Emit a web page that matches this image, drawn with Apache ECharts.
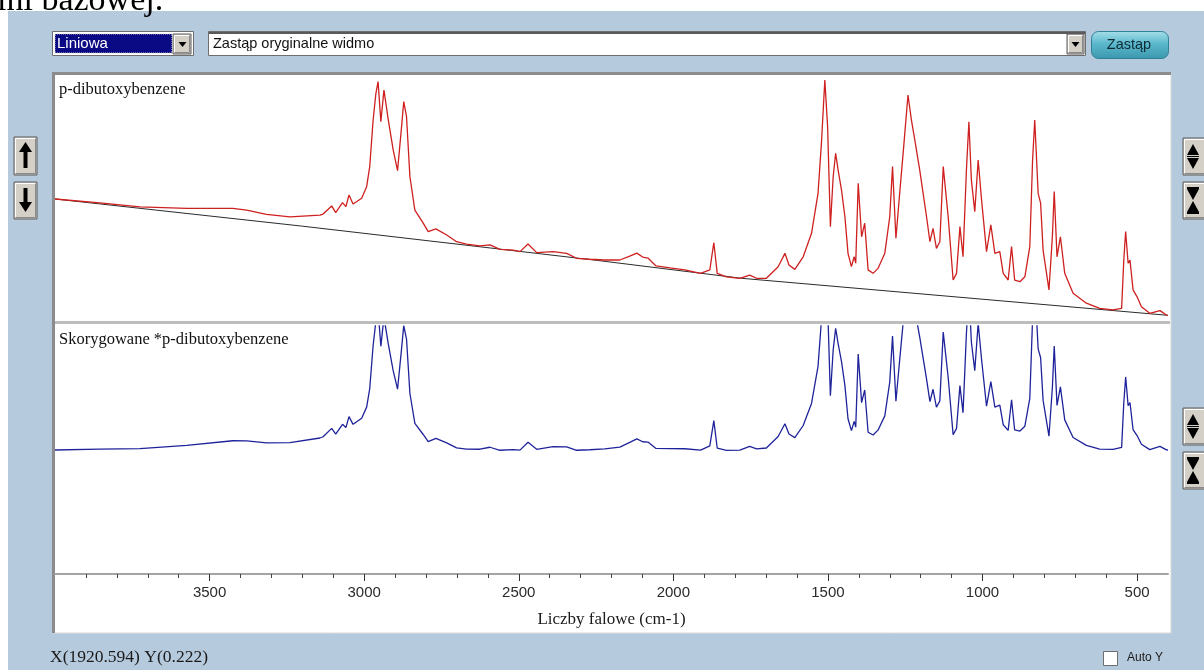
<!DOCTYPE html>
<html>
<head>
<meta charset="utf-8">
<script src="https://cdn.jsdelivr.net/npm/echarts@6.0.0/dist/echarts.min.js"></script>
<style>
  html, body { margin: 0; padding: 0; background: #ffffff; }
  #chart { width: 1204px; height: 670px; }
</style>
</head>
<body>
<div id="chart"></div>
<script>
// Measured IR spectrum: [wavenumber cm-1, absorbance]
const spectrum = [
  [4000,0.498],[3855,0.482],[3725,0.466],[3574,0.460],[3425,0.460],[3380,0.453],[3316,0.436],[3240,0.426],
  [3143,0.433],[3133,0.437],[3105,0.470],[3092,0.443],[3070,0.483],[3059,0.467],[3049,0.514],[3036,0.478],
  [3008,0.501],[2992,0.548],[2982,0.629],[2971,0.818],[2962,0.926],[2955,0.973],[2946,0.811],[2936,0.939],
  [2922,0.818],[2906,0.696],[2892,0.613],[2879,0.791],[2872,0.892],[2863,0.831],[2852,0.588],[2836,0.453],
  [2809,0.400],[2793,0.366],[2768,0.377],[2733,0.352],[2701,0.325],[2669,0.315],[2626,0.308],[2593,0.312],
  [2561,0.294],[2518,0.291],[2496,0.285],[2470,0.316],[2442,0.281],[2389,0.285],[2345,0.278],[2313,0.258],
  [2270,0.254],[2222,0.251],[2173,0.251],[2141,0.267],[2118,0.279],[2099,0.263],[2082,0.259],[2056,0.227],
  [2011,0.219],[1963,0.211],[1912,0.197],[1882,0.211],[1869,0.321],[1858,0.197],[1828,0.183],[1785,0.177],
  [1753,0.190],[1731,0.177],[1699,0.177],[1661,0.224],[1639,0.278],[1626,0.231],[1607,0.213],[1580,0.264],
  [1553,0.359],[1532,0.521],[1521,0.723],[1510,0.980],[1501,0.791],[1492,0.386],[1483,0.588],[1475,0.683],
  [1467,0.615],[1456,0.534],[1445,0.426],[1435,0.278],[1424,0.224],[1415,0.264],[1410,0.238],[1402,0.562],
  [1391,0.345],[1381,0.400],[1370,0.211],[1354,0.197],[1338,0.217],[1316,0.278],[1300,0.426],[1291,0.629],
  [1280,0.339],[1267,0.534],[1254,0.723],[1241,0.919],[1230,0.818],[1219,0.737],[1203,0.615],[1181,0.426],
  [1170,0.325],[1160,0.379],[1149,0.298],[1138,0.325],[1127,0.629],[1122,0.636],[1111,0.426],[1095,0.170],
  [1084,0.197],[1073,0.386],[1063,0.264],[1052,0.615],[1044,0.811],[1036,0.575],[1025,0.447],[1014,0.656],
  [1003,0.494],[987,0.285],[973,0.393],[960,0.278],[944,0.285],[933,0.197],[917,0.170],[906,0.305],
  [896,0.170],[879,0.163],[863,0.183],[847,0.305],[838,0.656],[831,0.818],[820,0.521],[812,0.481],
  [804,0.291],[785,0.130],[774,0.345],[768,0.528],[759,0.264],[748,0.345],[734,0.197],[707,0.116],
  [664,0.076],[621,0.055],[578,0.049],[550,0.055],[543,0.251],[537,0.366],[529,0.238],[523,0.251],
  [513,0.130],[500,0.102],[486,0.062],[459,0.035],[426,0.046],[405,0.028],[400,0.027]
];

// Linear baseline anchor points: [wavenumber, absorbance]
const baselinePoints = [[4000,0.498],[3200,0.388],[2250,0.250],[1780,0.177],[400,0.027]];

// Axis ticks
const majorTicks = [3500,3000,2500,2000,1500,1000,500];
const minorTicks = [3900,3800,3700,3600,3400,3300,3200,3100,2900,2800,2700,2600,2400,2300,2200,2100,
                    1900,1800,1700,1600,1400,1300,1200,1100,900,800,700,600];

// Texts
const spectrumName = 'p-dibutoxybenzene';
const correctedName = 'Skorygowane *p-dibutoxybenzene';
const axisTitle = 'Liczby falowe (cm-1)';
const statusText = 'X(1920.594) Y(0.222)';
const baselineMode = 'Liniowa';
const actionText = 'Zastąp oryginalne widmo';
const actionButton = 'Zastąp';
const autoYText = 'Auto Y';
const headerFragment = 'ini bazowej.';

// Baseline value at a given wavenumber (piecewise linear)
function baselineAt(wn) {
  for (let i = 0; i < baselinePoints.length - 1; i++) {
    const [w0, a0] = baselinePoints[i];
    const [w1, a1] = baselinePoints[i + 1];
    if (wn <= w0 && wn >= w1) return a0 + (a1 - a0) * (wn - w0) / (w1 - w0);
  }
  return baselinePoints[baselinePoints.length - 1][1];
}
const corrected = spectrum.map(([wn, a]) => [wn, +(a - baselineAt(wn)).toFixed(4)]);

const SANS = '"Liberation Sans", Arial, sans-serif';
const SERIF = '"Liberation Serif", "Times New Roman", serif';
const FACE = '#d4d0c8';

function bevel(x, y, w, h) {
  return [
    { type: 'rect', z: 20, shape: { x: x, y: y, width: w, height: h }, style: { fill: FACE, stroke: '#5a5a5a', lineWidth: 1 } },
    { type: 'polyline', z: 21, shape: { points: [[x + 1.5, y + h - 1.5], [x + 1.5, y + 1.5], [x + w - 1.5, y + 1.5]] }, style: { stroke: '#ffffff', lineWidth: 1 } },
    { type: 'polyline', z: 21, shape: { points: [[x + 1.5, y + h - 1.5], [x + w - 1.5, y + h - 1.5], [x + w - 1.5, y + 1.5]] }, style: { stroke: '#8a8a8a', lineWidth: 1 } }
  ];
}
function tri(points) {
  return { type: 'polygon', z: 22, shape: { points: points }, style: { fill: '#000000' } };
}
function upDownButton(x, y) {
  const cx = x + 10;
  return bevel(x, y, 24, 37).concat([
    tri([[cx - 6, y + 17], [cx + 6, y + 17], [cx, y + 6]]),
    tri([[cx - 6, y + 20], [cx + 6, y + 20], [cx, y + 31]]),
    { type: 'rect', z: 22, shape: { x: cx - 6, y: y + 18, width: 12, height: 1 }, style: { fill: '#000' } }
  ]);
}
function squeezeButton(x, y) {
  const cx = x + 10;
  return bevel(x, y, 24, 37).concat([
    { type: 'rect', z: 22, shape: { x: cx - 6, y: y + 5, width: 12, height: 2 }, style: { fill: '#000' } },
    tri([[cx - 6, y + 7], [cx + 6, y + 7], [cx, y + 18]]),
    tri([[cx - 6, y + 30], [cx + 6, y + 30], [cx, y + 19]]),
    { type: 'rect', z: 22, shape: { x: cx - 6, y: y + 30, width: 12, height: 2 }, style: { fill: '#000' } }
  ]);
}

const ui = [
  // panel background
  { type: 'rect', z: -20, shape: { x: 8, y: 11, width: 1196, height: 659 }, style: { fill: '#b6cadd' } },
  { type: 'text', z: 30, x: -3, y: 1, style: { text: headerFragment, font: '34px ' + SERIF, fill: '#000', align: 'left', verticalAlign: 'middle' } },

  // plotting area
  { type: 'rect', z: -10, shape: { x: 53, y: 73, width: 1118, height: 560 }, style: { fill: '#ffffff', stroke: '#d8d8d8', lineWidth: 1 } },
  { type: 'rect', z: -9, shape: { x: 53, y: 72, width: 1118, height: 3 }, style: { fill: '#8c8c8c' } },
  { type: 'rect', z: -9, shape: { x: 52, y: 72, width: 3, height: 561 }, style: { fill: '#8c8c8c' } },
  { type: 'rect', z: -9, shape: { x: 55, y: 321, width: 1115, height: 3 }, style: { fill: '#bdbdbd' } },

  // panel captions
  { type: 'text', z: 30, x: 59, y: 90, style: { text: spectrumName, font: '16.5px ' + SERIF, fill: '#111', align: 'left', verticalAlign: 'middle' } },
  { type: 'text', z: 30, x: 59, y: 340, style: { text: correctedName, font: '16.5px ' + SERIF, fill: '#111', align: 'left', verticalAlign: 'middle' } },

  // baseline mode combo
  { type: 'rect', z: 20, shape: { x: 52.5, y: 31.5, width: 141, height: 24 }, style: { fill: '#ffffff', stroke: '#6e6e6e', lineWidth: 1 } },
  { type: 'rect', z: 21, shape: { x: 55, y: 34, width: 117, height: 19 }, style: { fill: '#0a0a84', stroke: '#c8c8c8', lineWidth: 1, lineDash: [1, 1] } },
  { type: 'text', z: 22, x: 57, y: 44, style: { text: baselineMode, font: '15px ' + SANS, fill: '#ffffff', align: 'left', verticalAlign: 'middle' } },
  ...bevel(173, 34, 18, 20),
  tri([[178.5, 42], [186.5, 42], [182.5, 47]]),

  // action combo
  { type: 'rect', z: 20, shape: { x: 208.5, y: 31.5, width: 877, height: 24 }, style: { fill: '#ffffff', stroke: '#6e6e6e', lineWidth: 1 } },
  { type: 'rect', z: 21, shape: { x: 209, y: 32, width: 876, height: 2 }, style: { fill: '#5a5a5a' } },
  { type: 'text', z: 22, x: 213, y: 44, style: { text: actionText, font: '14.5px ' + SANS, fill: '#111', align: 'left', verticalAlign: 'middle' } },
  ...bevel(1067, 34, 17, 20),
  tri([[1071.5, 42], [1079.5, 42], [1075.5, 47]]),

  // replace button
  { type: 'rect', z: 20, shape: { x: 1091.5, y: 31.5, width: 77, height: 27, r: 7 },
    style: { stroke: '#2f8196', lineWidth: 1,
      fill: { type: 'linear', x: 0, y: 0, x2: 0, y2: 1, colorStops: [
        { offset: 0, color: '#a6dfe9' }, { offset: 0.45, color: '#5bb8cc' }, { offset: 1, color: '#3a97ad' } ] } } },
  { type: 'text', z: 22, x: 1129, y: 45, style: { text: actionButton, font: '14.5px ' + SANS, fill: '#0d2a36', align: 'center', verticalAlign: 'middle' } },

  // left scroll buttons
  ...bevel(14, 137, 23, 38),
  tri([[19, 152], [32, 152], [25.5, 142]]),
  { type: 'rect', z: 22, shape: { x: 23.5, y: 151, width: 4, height: 17 }, style: { fill: '#000' } },
  ...bevel(14, 182, 23, 37),
  tri([[19, 202], [32, 202], [25.5, 212]]),
  { type: 'rect', z: 22, shape: { x: 23.5, y: 188, width: 4, height: 15 }, style: { fill: '#000' } },

  // right zoom buttons
  ...upDownButton(1183, 138),
  ...squeezeButton(1183, 182),
  ...upDownButton(1183, 408),
  ...squeezeButton(1183, 452),

  // status line
  { type: 'text', z: 30, x: 50, y: 657, style: { text: statusText, font: '17.5px ' + SERIF, fill: '#1a1a1a', align: 'left', verticalAlign: 'middle' } },
  { type: 'rect', z: 20, shape: { x: 1103.5, y: 651.5, width: 14, height: 14 }, style: { fill: '#ffffff', stroke: '#6e6e6e', lineWidth: 1 } },
  { type: 'text', z: 30, x: 1127, y: 658, style: { text: autoYText, font: '12px ' + SANS, fill: '#1a1a1a', align: 'left', verticalAlign: 'middle' } }
];

const chart = echarts.init(document.getElementById('chart'), null, { renderer: 'canvas' });
chart.setOption({
  animation: false,
  backgroundColor: '#ffffff',
  graphic: { elements: ui },
  grid: [
    { left: 55, top: 75, width: 1113, height: 247 },
    { left: 55, top: 326, width: 1113, height: 248 }
  ],
  xAxis: [
    { type: 'value', gridIndex: 0, min: 400, max: 4000, inverse: true, show: false },
    { type: 'value', gridIndex: 1, min: 400, max: 4000, inverse: true, position: 'bottom',
      axisLine: { show: true, onZero: false, lineStyle: { color: '#a4a4a4', width: 2 } },
      axisTick: { show: true, customValues: majorTicks, length: 7, lineStyle: { color: '#333', width: 1 } },
      axisLabel: { show: true, customValues: majorTicks, margin: 11, color: '#2a2a2a',
        formatter: v => String(v),
        fontFamily: '"Liberation Sans Narrow", "Liberation Sans", Arial', fontSize: 15 },
      splitLine: { show: false },
      name: axisTitle, nameLocation: 'middle', nameGap: 37,
      nameTextStyle: { fontFamily: SERIF, fontSize: 17, color: '#1a1a1a' } },
    { type: 'value', gridIndex: 1, min: 400, max: 4000, inverse: true, position: 'bottom',
      axisLine: { show: false, onZero: false },
      axisTick: { show: true, customValues: minorTicks, length: 4, lineStyle: { color: '#444', width: 1 } },
      axisLabel: { show: false },
      splitLine: { show: false } }
  ],
  yAxis: [
    { type: 'value', gridIndex: 0, min: 0, max: 1, show: false },
    { type: 'value', gridIndex: 1, min: -0.55, max: 0.55, show: false }
  ],
  series: [
    { type: 'line', name: 'baseline', xAxisIndex: 0, yAxisIndex: 0, data: baselinePoints,
      showSymbol: false, symbol: 'none', lineStyle: { color: '#2b2b2b', width: 1 }, z: 2 },
    { type: 'line', name: spectrumName, xAxisIndex: 0, yAxisIndex: 0, data: spectrum,
      showSymbol: false, symbol: 'none', lineStyle: { color: '#cf2020', width: 1.3 }, z: 3 },
    { type: 'line', name: correctedName, xAxisIndex: 1, yAxisIndex: 1, data: corrected, clip: true,
      showSymbol: false, symbol: 'none', lineStyle: { color: '#1f239a', width: 1.3 }, z: 3 }
  ]
});
</script>
</body>
</html>
